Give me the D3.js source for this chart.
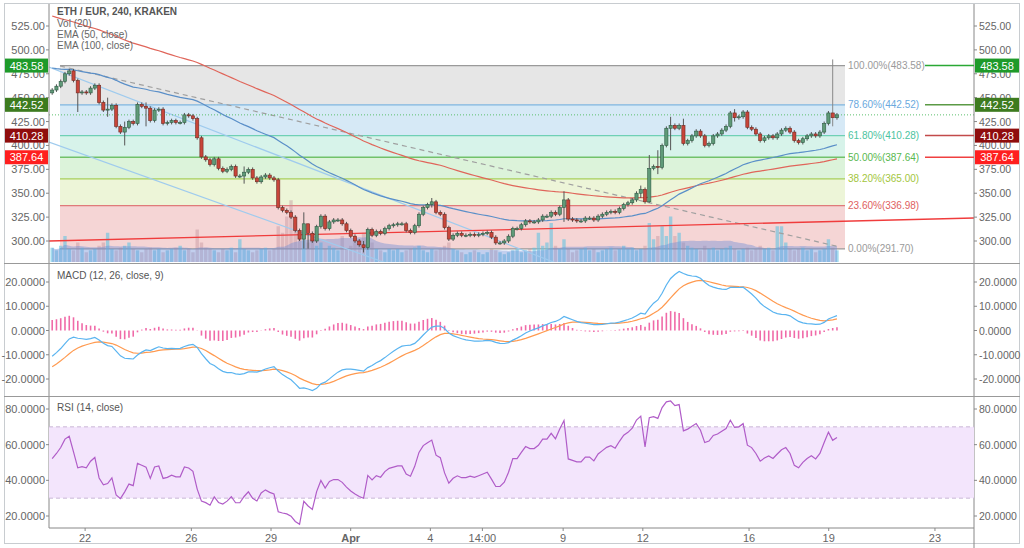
<!DOCTYPE html>
<html><head><meta charset="utf-8">
<script src="https://cdn.jsdelivr.net/npm/d3@7"></script>
<style>body{margin:0;background:#fff}svg{display:block;font-family:"Liberation Sans",Arial,sans-serif}</style>
</head><body><svg id="c" width="1024" height="548"></svg>
<script>
const closes=[458,462,467,475,478,468,455,456,455,460,463,445,437,438,442,420,414,419,425,423,443,441,439,426,437,438,423,424,426,424,424,432,431,428,408,388,385,380,386,376,373,375,378,368,368,372,375,366,362,367,369,366,364,335,332,330,325,311,302,318,308,300,315,326,313,320,322,322,318,311,305,300,296,293,312,306,310,308,313,316,317,318,318,311,309,316,328,335,338,341,330,328,314,302,306,308,306,306,307,306,307,308,309,304,298,298,300,305,313,313,317,321,320,320,322,326,326,330,328,335,343,323,322,321,321,324,324,322,326,328,330,331,330,334,338,340,343,350,354,341,376,378,377,400,418,421,418,421,402,405,410,415,410,400,402,410,412,416,420,434,429,430,435,419,417,412,405,408,410,408,412,416,418,414,405,403,407,410,412,410,414,423,434,429,432];
const firstOpen=455;
const volumes=[22,18,25,40,20,18,30,22,15,18,20,25,30,45,20,18,22,25,30,20,18,15,20,22,18,20,15,18,20,22,25,18,20,15,50,30,22,20,18,15,20,18,22,15,35,20,18,15,18,20,22,18,20,55,45,70,95,60,45,40,30,35,25,30,20,25,22,18,40,20,25,30,35,45,50,30,20,18,15,20,18,20,15,18,20,22,25,18,15,20,18,20,25,30,20,18,15,12,15,18,15,12,15,20,18,15,12,15,18,20,15,18,20,22,45,25,30,60,25,20,35,20,15,18,20,22,18,20,15,18,20,22,18,20,25,20,22,18,20,25,60,35,40,55,40,70,40,45,30,25,22,20,18,25,20,22,18,20,22,25,20,18,20,22,18,20,25,20,22,18,55,55,30,20,18,20,22,18,20,15,18,20,35,22,18];
const longWicks={6:[470,435],13:[450,430],17:[425,400],22:[445,420],45:[378,360],59:[330,292],60:[318,292],73:[300,288],89:[345,335],120:[352,320],138:[358,345],140:[390,340],142:[395,370],145:[430,395],148:[428,400],160:[438,425],183:[490,420]};
const fibLevels=[483.58,442.52,410.28,387.64,365.00,336.98,291.70];
const fibPct=["100.00%","78.60%","61.80%","50.00%","38.20%","23.60%","0.00%"];
const priceTicks=[300,325,350,375,400,425,450,475,500,525];
const macdTicks=[-20,-10,0,10,20];
const rsiTicks=[20,40,60,80];
const xTickDates=["2018-03-22T00:00","2018-03-26T00:00","2018-03-29T00:00","2018-04-01T00:00","2018-04-04T00:00","2018-04-05T23:00","2018-04-09T00:00","2018-04-12T00:00","2018-04-16T00:00","2018-04-19T00:00","2018-04-23T00:00"];
const xTickLabels=["22","26","29","Apr","4","14:00","9","12","16","19","23"];
const tags=[{v:483.58,c:"#1e9a2a",line:"#2aa834"},{v:442.52,c:"#3d7b1f",line:"#5b9a45"},{v:410.28,c:"#8f0d0d",line:"#c24a4a"},{v:387.64,c:"#ff1f1f",line:"#f04040"}];

const svg=d3.select("#c");
const L=49,R=974;
const day=864e5, d0=new Date("2018-03-22T00:00");
const x=d3.scaleTime().domain([new Date(+d0-1.36*day),new Date(+d0+33.47*day)]).range([L,R]);
const yP=d3.scaleLinear().domain([300,525]).range([241,26]);
const yM=d3.scaleLinear().domain([-20,20]).range([379,282]);
const yR=d3.scaleLinear().domain([20,80]).range([516,409]);
const n=closes.length, tStart=+d0-1.24*day, tEnd=+d0+28.31*day;
const times=closes.map((c,i)=>new Date(tStart+(tEnd-tStart)*i/(n-1)));
const candles=closes.map((c,i)=>{const o=i?closes[i-1]:firstOpen;const w=longWicks[i];
 return {t:times[i],o,c,h:w?w[0]:Math.max(o,c)+2,l:w?w[1]:Math.min(o,c)-2,v:volumes[i]||15};});

svg.append("rect").attr("x",4.5).attr("y",3.5).attr("width",1015).attr("height",540).attr("fill","none").attr("stroke","#c8ccd0");
const fx0=60,fx1=845;
const fibFill=["#e6e6e6","#d6e9f6","#d7f3ea","#dcf3da","#edf5d8","#f5d5d5"];
const fibLine=["#9a9a9a","#7fb5de","#6fd0b5","#72c26a","#a8cf5a","#e07a7a","#9a9a9a"];
const fibText=["#9a9a9a","#6aa9de","#4cc3a0","#59b84f","#a3c63c","#e06060","#9a9a9a"];
fibLevels.slice(0,-1).forEach((v,i)=>svg.append("rect").attr("x",fx0).attr("width",fx1-fx0).attr("y",yP(v)).attr("height",yP(fibLevels[i+1])-yP(v)).attr("fill",fibFill[i]));
fibLevels.forEach((v,i)=>{svg.append("line").attr("x1",fx0).attr("x2",fx1).attr("y1",yP(v)).attr("y2",yP(v)).attr("stroke",fibLine[i]).attr("stroke-width",1.3);
 svg.append("text").attr("x",fx1+3).attr("y",yP(v)+3.5).attr("font-size",10).attr("fill",fibText[i]).text(fibPct[i]+"("+v.toFixed(2)+")");});

const yV=d3.scaleLinear().domain([0,100]).range([262,197]);
const bw=3.4;
svg.append("g").selectAll("rect").data(candles).join("rect").attr("x",d=>x(d.t)-bw/2).attr("width",bw)
 .attr("y",d=>yV(d.v)).attr("height",d=>262-yV(d.v)).attr("fill",d=>d.c>=d.o?"rgba(100,195,225,0.6)":"rgba(190,140,150,0.4)");
const vma=candles.map((d,i)=>{const s=candles.slice(Math.max(0,i-19),i+1);return d3.mean(s,e=>e.v);});
svg.append("path").datum(candles).attr("fill","rgba(110,140,215,0.42)")
 .attr("d",d3.area().x(d=>x(d.t)).y0(262).y1((d,i)=>yV(vma[i])).curve(d3.curveMonotoneX));

function seg(x1,y1,x2,y2,col,w,dash){svg.append("line").attr("x1",x1).attr("y1",y1).attr("x2",x2).attr("y2",y2).attr("stroke",col).attr("stroke-width",w).attr("stroke-dasharray",dash||null);}
svg.append("clipPath").attr("id","mp").append("rect").attr("x",L).attr("y",5).attr("width",R-L).attr("height",257);
const g=svg.append("g").attr("clip-path","url(#mp)");
function gseg(x1,y1,x2,y2,col,w,dash){g.append("line").attr("x1",x1).attr("y1",y1).attr("x2",x2).attr("y2",y2).attr("stroke",col).attr("stroke-width",w).attr("stroke-dasharray",dash||null);}
gseg(49,67,600,280,"#9fcbee",1.2);
gseg(49,142,400,268,"#9fcbee",1.2);
gseg(60,66,840,247,"#a0a0a0",1.2,"5,4");
gseg(49,241,974,218,"#f03c3c",1.3);
gseg(49,yP(432),R,yP(432),"#5cbf6c",1,"1,2");

function ema(arr,p,seed){const k=2/(p+1);let e=seed;return arr.map(v=>e=e+k*(v-e));}
const ema50=ema(closes,50,482), ema100=ema(closes,100,537);
const ln=(ys,sc)=>d3.line().x((d,i)=>x(times[i])).y(d=>sc(d));
g.append("path").datum(ema100).attr("d",ln(ema100,yP)).attr("fill","none").attr("stroke","#e0655a").attr("stroke-width",1.2);
g.append("path").datum(ema50).attr("d",ln(ema50,yP)).attr("fill","none").attr("stroke","#5a8fc8").attr("stroke-width",1.2);

const cg=g.append("g");
candles.forEach(d=>{const up=d.c>=d.o,cx=x(d.t);
 cg.append("line").attr("x1",cx).attr("x2",cx).attr("y1",yP(d.h)).attr("y2",yP(d.l)).attr("stroke",d.h>480?"#888":"#555").attr("stroke-width",1);
 const top=yP(Math.max(d.o,d.c)),bot=yP(Math.min(d.o,d.c));
 cg.append("rect").attr("x",cx-1.6).attr("width",3.2).attr("y",top).attr("height",Math.max(1,bot-top))
  .attr("fill",up?"#5f9a78":"#c8453a").attr("stroke",up?"#2f5b44":"#6e2a22").attr("stroke-width",0.6);});

seg(L,4,L,528,"#888",1);seg(R,4,R,548,"#888",1);
seg(L,528,R,528,"#888",1);
seg(4,263.5,1020,263.5,"#999",1);seg(4,396.5,1020,396.5,"#999",1);

const ax=(t,fmt,yy)=>{svg.append("text").attr("x",45).attr("y",yy(t)+4).attr("text-anchor","end").attr("font-size",11).attr("fill","#666").text(fmt(t));
 svg.append("text").attr("x",979).attr("y",yy(t)+4).attr("font-size",10.5).attr("fill","#666").text(fmt(t));
 seg(L-3,yy(t),L,yy(t),"#888",1);seg(R,yy(t),R+3,yy(t),"#888",1);};
priceTicks.forEach(t=>ax(t,v=>v.toFixed(2),yP));
macdTicks.forEach(t=>ax(t,v=>v.toFixed(4),yM));
rsiTicks.forEach(t=>ax(t,v=>v.toFixed(4),yR));

tags.forEach(t=>{const yy=yP(t.v);
 seg(925,yy,R,yy,t.line,1.5);
 [[5,L-1],[R+1,1019]].forEach(([a,b])=>{svg.append("rect").attr("x",a).attr("y",yy-7).attr("width",b-a).attr("height",14).attr("fill",t.c);
  svg.append("text").attr("x",a+(b-a)/2).attr("y",yy+4).attr("text-anchor","middle").attr("font-size",11).attr("fill","#fff").text(t.v.toFixed(2));});});

svg.append("text").attr("x",57).attr("y",15).attr("font-size",10).attr("font-weight","bold").attr("fill","#555").text("ETH / EUR, 240, KRAKEN");
["Vol (20)","EMA (50, close)","EMA (100, close)"].forEach((s,i)=>svg.append("text").attr("x",57).attr("y",27+i*11).attr("font-size",10).attr("fill","#666").text(s));
svg.append("text").attr("x",57).attr("y",279).attr("font-size",10).attr("fill","#555").text("MACD (12, 26, close, 9)");
svg.append("text").attr("x",57).attr("y",411).attr("font-size",10).attr("fill","#555").text("RSI (14, close)");

const e12=ema(closes,12,452),e26=ema(closes,26,464);
const macd=e12.map((v,i)=>v-e26[i]);
const sig=ema(macd,9,-16);
const hist=macd.map((v,i)=>v-sig[i]);
svg.append("g").selectAll("line").data(hist).join("line").attr("x1",(d,i)=>x(times[i])).attr("x2",(d,i)=>x(times[i]))
 .attr("y1",yM(0)).attr("y2",d=>yM(d)).attr("stroke","#f06aa8").attr("stroke-width",1.6);
svg.append("path").attr("d",ln(sig,yM)(sig)).attr("fill","none").attr("stroke","#ff9a50").attr("stroke-width",1.2);
svg.append("path").attr("d",ln(macd,yM)(macd)).attr("fill","none").attr("stroke","#5ab4f0").attr("stroke-width",1.2);

svg.append("rect").attr("x",L).attr("width",R-L).attr("y",yR(70)).attr("height",yR(30)-yR(70)).attr("fill","#f3e5fc");
[70,30].forEach(v=>seg(L,yR(v),R,yR(v),"#c9b7d6",1,"4,3"));
let ag=2.5,al=2.5;const rsi=closes.map((c,i)=>{const d=i?c-closes[i-1]:c-firstOpen;ag=(ag*13+Math.max(d,0))/14;al=(al*13+Math.max(-d,0))/14;return 100-100/(1+ag/al);});
svg.append("path").attr("d",ln(rsi,yR)(rsi)).attr("fill","none").attr("stroke","#b05cc8").attr("stroke-width",1.2);

xTickDates.forEach((d,i)=>{const xx=x(new Date(d));seg(xx,528,xx,531,"#888",1);
 svg.append("text").attr("x",xx).attr("y",542).attr("text-anchor","middle").attr("font-size",11).attr("fill","#666").attr("font-weight",xTickLabels[i]=="Apr"?"bold":null).text(xTickLabels[i]);});
</script></body></html>
